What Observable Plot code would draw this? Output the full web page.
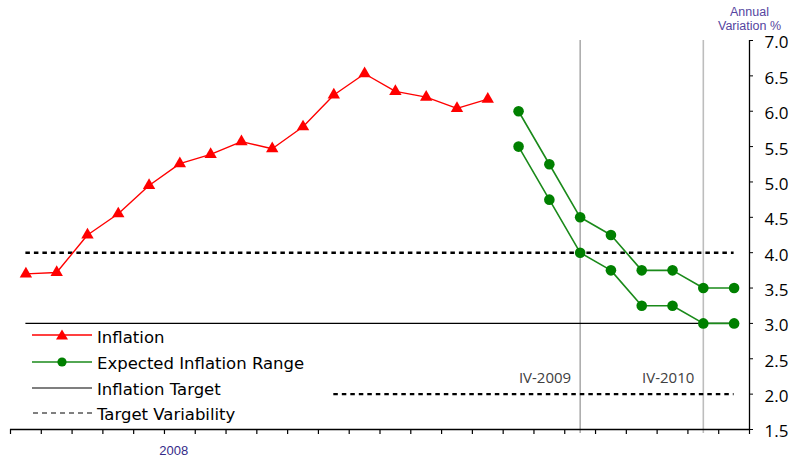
<!DOCTYPE html>
<html><head><meta charset="utf-8">
<script src="https://cdn.jsdelivr.net/npm/d3@7"></script>
<script src="https://cdn.jsdelivr.net/npm/@observablehq/plot@0.6"></script>
<style>
html,body{margin:0;padding:0;background:#fff;}
#wrap{position:relative;width:790px;height:459px;overflow:hidden;}
.row{position:absolute;left:31px;height:22px;display:flex;align-items:center;white-space:nowrap;font-family:"DejaVu Sans",sans-serif;font-size:16.5px;color:#000;}
.row svg{width:62px;height:22px;flex:none;margin-right:4px;}
</style></head><body><div id="wrap"></div>
<script>
// Categories: monthly observations (Jan 2008 – Apr 2009) then quarterly forecasts
const periods = ["Jan-08","Feb-08","Mar-08","Apr-08","May-08","Jun-08","Jul-08","Aug-08","Sep-08","Oct-08","Nov-08","Dec-08","Jan-09","Feb-09","Mar-09","Apr-09",
  "II-2009","III-2009","IV-2009","I-2010","II-2010","III-2010","IV-2010","I-2011"];
const inflation = [3.70,3.72,4.25,4.55,4.95,5.26,5.39,5.57,5.47,5.78,6.23,6.53,6.28,6.20,6.04,6.17];
const rangeUpper = [6.00,5.25,4.50,4.25,3.75,3.75,3.50,3.50];
const rangeLower = [5.50,4.75,4.00,3.75,3.25,3.25,3.00,3.00];
const inflationTarget = 3.0;
const variabilityUpper = {value: 4.0, from: "Jan-08", to: "I-2011"};
const variabilityLower = {value: 2.0, from: "Nov-08", to: "I-2011"};
const targetSpan = {from: "Jan-08", to: "I-2011"};
const quarterMarkers = ["IV-2009","IV-2010"];
const yearLabels = [{label: "2008", at: 4.8}];
const yTicks = [1.5,2.0,2.5,3.0,3.5,4.0,4.5,5.0,5.5,6.0,6.5,7.0];
const legendLabels = ["Inflation","Expected Inflation Range","Inflation Target","Target Variability"];
const titleLines = ["Annual","Variation %"];

const idx = p => periods.indexOf(p);
const infData = inflation.map((v,i)=>({i, v}));
const off = inflation.length;
const upData = rangeUpper.map((v,i)=>({i: i+off, v}));
const loData = rangeLower.map((v,i)=>({i: i+off, v}));
const boundaries = d3.range(periods.length+1).map(k=>k-0.5);
const xDomain = [-0.5, periods.length-0.5];

const chart = Plot.plot({
  width: 790, height: 459,
  marginLeft: 10, marginRight: 41, marginTop: 40, marginBottom: 30,
  style: {fontFamily: "'Open Sans', sans-serif", fontSize: "17px", background: "#fff", overflow: "visible", color: "#000"},
  x: {domain: xDomain, axis: null},
  y: {domain: [1.5, 7.0], axis: null},
  marks: [
    Plot.ruleX([quarterMarkers[0]], {x: d=>idx(d), stroke: "#9a9a9a", strokeWidth: 1.3, insetBottom: -4}),
    Plot.ruleX([quarterMarkers[1]], {x: d=>idx(d), stroke: "#bdbdbd", strokeWidth: 1.6, insetBottom: -4}),
    Plot.ruleY([inflationTarget], {x1: idx(targetSpan.from), x2: idx(targetSpan.to), stroke: "#000", strokeWidth: 1.2}),
    Plot.ruleY([variabilityUpper], {y: "value", x1: d=>idx(d.from), x2: d=>idx(d.to), stroke: "#000", strokeWidth: 2.4, strokeDasharray: "4.5,4"}),
    Plot.ruleY([variabilityLower], {y: "value", x1: d=>idx(d.from), x2: d=>idx(d.to), stroke: "#000", strokeWidth: 2.4, strokeDasharray: "4.5,4"}),
    Plot.ruleY([1.5], {stroke: "#000", strokeWidth: 1.3}),
    Plot.ruleX([xDomain[1]], {stroke: "#000", strokeWidth: 1.3}),
    Plot.axisX({ticks: boundaries, tickSize: 5, tickFormat: () => "", label: null, stroke: "#000", strokeWidth: 1.2}),
    Plot.axisX({ticks: yearLabels.map(d=>d.at), tickSize: 0, tickPadding: 16, tickFormat: (d,i)=>yearLabels[i].label, label: null,
      fontSize: 13, fontFamily: "'Liberation Sans', Arial, sans-serif", fill: "#352a88"}),
    Plot.axisY({anchor: "right", ticks: yTicks, tickSize: 3, tickFormat: null, label: null, stroke: "#000", text: null}),
    Plot.axisY({anchor: "right", ticks: yTicks, tickSize: 0, tickPadding: 15, tickFormat: d3.format(".1f"), label: null, fill: "#000", dy: 2.5}),
    Plot.line(upData, {x: "i", y: "v", stroke: "#1a8a1a", strokeWidth: 1.6}),
    Plot.line(loData, {x: "i", y: "v", stroke: "#1a8a1a", strokeWidth: 1.6}),
    Plot.dot(upData, {x: "i", y: "v", r: 5.3, fill: "#008000"}),
    Plot.dot(loData, {x: "i", y: "v", r: 5.3, fill: "#008000"}),
    Plot.line(infData, {x: "i", y: "v", stroke: "#ff0000", strokeWidth: 1.4}),
    Plot.dot(infData, {x: "i", y: "v", symbol: "triangle", r: 4.6, fill: "#ff0000"}),
    Plot.text(quarterMarkers, {x: d=>idx(d), text: d=>d, frameAnchor: "bottom", textAnchor: "end", lineAnchor: "middle",
      dx: -9, dy: -51, fontSize: 15, fill: "#404040"}),
    Plot.text([titleLines.join("\n")], {frameAnchor: "top-right", textAnchor: "middle", lineAnchor: "bottom", dy: -11,
      fontSize: 12.5, lineHeight: 1.12, fontFamily: "'Liberation Sans', Arial, sans-serif", fill: "#5545a0"})
  ]
});
const wrap = document.getElementById("wrap");
wrap.appendChild(chart);

// Legend overlay (inside plot area, lower-left)
const swatches = [
  `<line x1="1" x2="61" y1="10" y2="10" stroke="#ff0000" stroke-width="1.4"/><path d="M31,4.5 L37,14.5 L25,14.5 Z" fill="#ff0000"/>`,
  `<line x1="1" x2="61" y1="11" y2="11" stroke="#1a8a1a" stroke-width="1.4"/><circle cx="31" cy="11" r="4.6" fill="#008000"/>`,
  `<line x1="1" x2="61" y1="11" y2="11" stroke="#000" stroke-width="1.2"/>`,
  `<line x1="2" x2="61" y1="11" y2="11" stroke="#000" stroke-width="1" stroke-dasharray="5,4"/>`
];
const rowY = [336, 362, 388, 413];
legendLabels.forEach((lab, k) => {
  const row = document.createElement("div");
  row.className = "row";
  row.style.top = (rowY[k] - 11) + "px";
  row.innerHTML = `<svg viewBox="0 0 62 22">${swatches[k]}</svg><span style="position:relative;top:1px">${lab}</span>`;
  wrap.appendChild(row);
});
</script>
</body></html>
